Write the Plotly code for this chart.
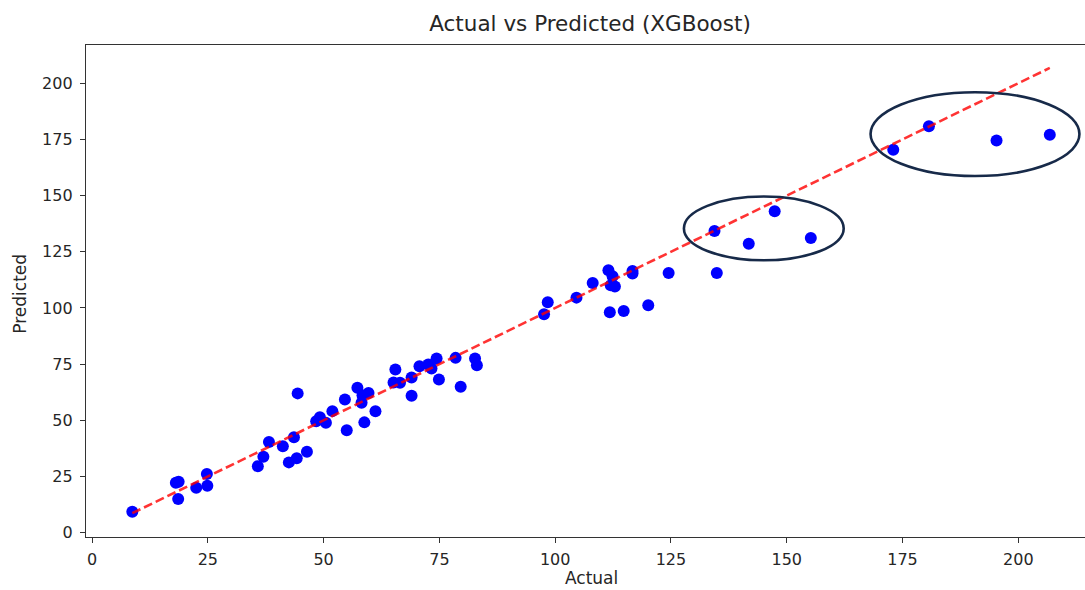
import plotly.graph_objects as go

# ---- data ----
actual = [8.7, 18.1, 18.7, 18.6, 22.5, 24.8, 24.9,
          35.8, 37.0, 38.2, 41.2, 42.5, 43.6, 44.2, 44.4, 46.4,
          48.4, 49.2, 50.5, 51.9, 54.6, 55.0,
          57.3, 58.2, 58.4, 58.8, 59.7, 61.2,
          65.5, 65.1, 66.5, 69.0, 69.0,
          70.7, 72.6, 73.3, 74.4, 74.9,
          78.5, 79.6, 82.7, 83.1,
          97.6, 98.4, 104.6, 108.1,
          111.5, 112.4, 112.0, 112.9, 111.8, 114.8,
          116.7, 116.7, 120.1, 124.5,
          134.4, 134.9, 141.8, 147.4, 155.2,
          173.0, 180.7, 195.3, 206.8]
predicted = [9.3, 22.2, 22.7, 15.0, 20.0, 26.1, 20.9,
             29.6, 33.8, 40.4, 38.5, 31.3, 42.5, 33.1, 62.0, 36.0,
             49.6, 51.4, 48.9, 54.1, 59.3, 45.6,
             64.5, 57.8, 61.2, 49.1, 62.2, 54.0,
             72.6, 66.8, 66.7, 69.1, 60.9,
             74.1, 74.8, 73.1, 77.5, 68.2,
             77.8, 64.9, 77.5, 74.5,
             97.2, 102.5, 104.6, 111.1,
             116.8, 114.1, 110.1, 109.6, 98.1, 98.7,
             115.3, 116.5, 101.2, 115.6,
             134.2, 115.6, 128.6, 143.0, 131.1,
             170.4, 180.9, 174.5, 177.1]

tick_vals = [0, 25, 50, 75, 100, 125, 150, 175, 200]

# highlight ellipses (data-space bounds: x0, x1, y0, y1)
ellipse_small = [127.8, 162.3, 121.2, 149.6]
ellipse_large = [168.1, 213.2, 158.7, 196.0]

ideal = [min(actual), max(actual)]

FONT = "DejaVu Sans"
TXT = "#262626"
AX = "#333333"
W, H = 1085, 590

fig = go.Figure()
fig.add_trace(go.Scatter(
    x=actual, y=predicted, mode="markers",
    marker=dict(color="#0000ff", size=12, line=dict(width=0)),
    showlegend=False, hoverinfo="x+y"))
fig.add_trace(go.Scatter(
    x=ideal, y=ideal, mode="lines",
    line=dict(color="rgba(255,0,0,0.8)", width=2.6, dash="9px,4px"),
    showlegend=False, hoverinfo="skip"))

for e in (ellipse_small, ellipse_large):
    fig.add_shape(type="circle", xref="x", yref="y",
                  x0=e[0], x1=e[1], y0=e[2], y1=e[3],
                  line=dict(color="#172a49", width=2.6), layer="above")

fig.update_layout(
    width=W, height=H,
    margin=dict(l=86, r=0, t=44.5, b=53, pad=0),
    paper_bgcolor="white", plot_bgcolor="white",
    font=dict(family=FONT, color=TXT, size=16),
    title=dict(text="Actual vs Predicted (XGBoost)", x=590 / W, xanchor="center",
               xref="container", y=1 - 23.5 / H, yref="container", yanchor="middle",
               font=dict(family=FONT, size=21.5, color=TXT)),
)
# axis titles placed as annotations
fig.add_annotation(text="Actual", xref="paper", yref="paper",
                   x=(591 - 86) / (W - 86), y=-(589 - 537) / (537 - 44.5),
                   xanchor="center", yanchor="bottom", showarrow=False, borderpad=0,
                   font=dict(size=17, family=FONT, color=TXT))
fig.add_annotation(text="Predicted", xref="paper", yref="paper", textangle=-90,
                   x=-(86 - 20.5) / (W - 86), y=(537 - 294) / (537 - 44.5),
                   xanchor="center", yanchor="middle", showarrow=False,
                   font=dict(size=17, family=FONT, color=TXT))

fig.update_xaxes(
    range=[-1.3, 214.4], tickvals=tick_vals, ticktext=[str(v) for v in tick_vals],
    showgrid=False, zeroline=False, showline=True, linecolor=AX, linewidth=1.3,
    mirror=True, ticks="outside", ticklen=5, tickwidth=1.3, tickcolor=AX,
    tickfont=dict(size=16, family=FONT, color=TXT), ticklabelstandoff=3,
)
fig.update_yaxes(
    range=[-1.9, 217.0], tickvals=tick_vals, ticktext=[str(v) for v in tick_vals],
    showgrid=False, zeroline=False, showline=True, linecolor=AX, linewidth=1.3,
    mirror=False, ticks="outside", ticklen=5, tickwidth=1.3, tickcolor=AX,
    tickfont=dict(size=16, family=FONT, color=TXT), ticklabelstandoff=4,
)

fig.write_html("out.html")
